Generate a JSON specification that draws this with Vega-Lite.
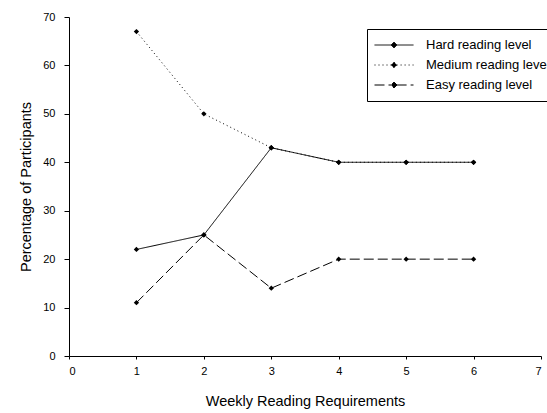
{
  "$schema": "https://vega.github.io/schema/vega-lite/v6.json",
  "width": 472,
  "height": 339,
  "autosize": "none",
  "padding": {"left": 69, "top": 17, "right": 6, "bottom": 57},
  "background": "white",
  "config": {
    "view": {"stroke": null},
    "font": "Liberation Sans",
    "axis": {
      "grid": false,
      "domainColor": "black",
      "tickColor": "black",
      "labelColor": "black",
      "titleColor": "black",
      "labelFont": "Liberation Sans",
      "titleFont": "Liberation Sans",
      "labelFontSize": 11,
      "titleFontSize": 14.5,
      "titleFontWeight": "normal",
      "tickSize": 5
    }
  },
  "data": {
    "values": [
      {"week": 1, "pct": 22, "series": "Hard reading level"},
      {"week": 2, "pct": 25, "series": "Hard reading level"},
      {"week": 3, "pct": 43, "series": "Hard reading level"},
      {"week": 4, "pct": 40, "series": "Hard reading level"},
      {"week": 5, "pct": 40, "series": "Hard reading level"},
      {"week": 6, "pct": 40, "series": "Hard reading level"},
      {"week": 1, "pct": 67, "series": "Medium reading level"},
      {"week": 2, "pct": 50, "series": "Medium reading level"},
      {"week": 3, "pct": 43, "series": "Medium reading level"},
      {"week": 4, "pct": 40, "series": "Medium reading level"},
      {"week": 5, "pct": 40, "series": "Medium reading level"},
      {"week": 6, "pct": 40, "series": "Medium reading level"},
      {"week": 1, "pct": 11, "series": "Easy reading level"},
      {"week": 2, "pct": 25, "series": "Easy reading level"},
      {"week": 3, "pct": 14, "series": "Easy reading level"},
      {"week": 4, "pct": 20, "series": "Easy reading level"},
      {"week": 5, "pct": 20, "series": "Easy reading level"},
      {"week": 6, "pct": 20, "series": "Easy reading level"}
    ]
  },
  "encoding": {
    "x": {
      "field": "week", "type": "quantitative",
      "scale": {"domain": [0, 7], "nice": false, "zero": false},
      "axis": {"values": [0,1,2,3,4,5,6,7], "title": "Weekly Reading Requirements", "labelPadding": 6, "titlePadding": 18, "tickSize": 3}
    },
    "y": {
      "field": "pct", "type": "quantitative",
      "scale": {"domain": [0, 70], "nice": false},
      "axis": {"values": [0,10,20,30,40,50,60,70], "title": "Percentage of Participants", "labelPadding": 9, "titlePadding": 9}
    }
  },
  "layer": [
    {
      "mark": {"type": "line", "color": "black", "strokeWidth": 1},
      "encoding": {
        "strokeDash": {
          "field": "series", "type": "nominal",
          "scale": {
            "domain": ["Hard reading level", "Medium reading level", "Easy reading level"],
            "range": [[1, 0], [1, 3], [10, 4]]
          },
          "legend": {
            "title": null,
            "orient": "none",
            "legendX": 298,
            "legendY": 12,
            "strokeColor": "black",
            "fillColor": "white",
            "padding": 9,
            "labelFontSize": 13,
            "labelFont": "Liberation Sans",
            "labelColor": "black",
            "labelLimit": 300,
            "symbolType": "M-3,0H-0.4M0.4,0H3M0,-0.45L0.45,0L0,0.45L-0.45,0Z",
            "symbolSize": 169,
            "symbolOffset": 11,
            "symbolStrokeColor": "black",
            "symbolFillColor": "black",
            "symbolStrokeWidth": 1,
            "rowPadding": 6,
            "labelOffset": 25
          }
        }
      }
    },
    {
      "mark": {"type": "point", "shape": "diamond", "filled": true, "color": "black", "size": 28, "opacity": 1},
      "encoding": {"detail": {"field": "series"}}
    }
  ]
}
